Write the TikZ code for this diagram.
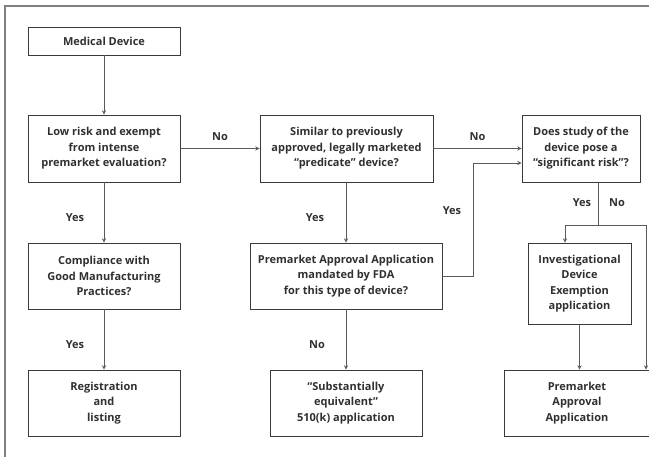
\documentclass[tikz,border=0pt]{standalone}
\usepackage{fontspec}
\setmainfont{Open Sans}
\usepackage{tikz}
\tikzset{>=stealth}
\definecolor{boxline}{HTML}{3A3A3A}
\definecolor{arrline}{HTML}{5A5A5A}
\definecolor{txt}{HTML}{303030}

\begin{document}
\begin{tikzpicture}[x=1pt, y=-1pt, font=\fontsize{11}{15.5}\selectfont\bfseries, text=txt,
    box/.style={draw=boxline, line width=0.9pt, align=center, inner sep=2pt},
    link/.style={->, draw=arrline, line width=0.9pt},
    lbl/.style={inner sep=1pt}]
     \useasboundingbox (0,0) rectangle (649,457);
     \draw[gray, line width=1.4pt] (5,457) -- (5,6) -- (650,6);
     % first row
     \node[box, minimum width=152, minimum height=28] (dev) at (104,41) {Medical Device};
     \node[box, minimum width=152, minimum height=67] (low) at (104,148.5) {Low risk and exempt\\from intense\\premarket evaluation?};
     \node[box, minimum width=173, minimum height=67] (sim) at (346.5,148.5) {Similar to previously\\approved, legally marketed\\``predicate'' device?};
     \node[box, minimum width=118, minimum height=67] (sig) at (581,148.5) {Does study of the\\device pose a\\``significant risk''?};
     % second row
     \node[box, minimum width=152, minimum height=66] (gmp) at (104,276) {Compliance with\\Good Manufacturing\\Practices?};
     \node[box, minimum width=192, minimum height=66] (pma) at (346,276) {Premarket Approval Application\\mandated by FDA\\for this type of device?};
     \node[box, minimum width=103, minimum height=81] (ide) at (579.5,283.5) {Investigational\\Device\\Exemption\\application};
     % third row
     \node[box, minimum width=152, minimum height=66] (reg) at (104,403) {Registration\\and\\listing};
     \node[box, minimum width=152, minimum height=66] (sub) at (346,403) {``Substantially\\equivalent''\\510(k) application};
     \node[box, minimum width=146, minimum height=66] (app) at (577,403) {Premarket\\Approval\\Application};
     % connectors
     \coordinate (split) at (598,225);
     \coordinate (splitl) at (565,225);
     \coordinate (splitr) at (646,225);
     \coordinate (bend) at (473,163);
     \draw[link] (dev) -- (low);
     \draw[link] (low) -- node[lbl, midway, above=6pt] (nolow) {No} (sim);
     \draw[link] (sim) -- node[lbl, midway, above=6pt] (nosim) {No} (sig);
     \draw[link] (low) -- node[lbl, midway, xshift=-29, yshift=-5] (yeslow) {Yes} (gmp);
     \draw[link] (sim.south -| pma) -- node[lbl, midway, xshift=-31, yshift=-5] (yessim) {Yes} (pma);
     \draw[link] (gmp) -- node[lbl, midway, xshift=-29, yshift=-5] (yesgmp) {Yes} (reg);
     \draw[link] (pma) -- node[lbl, midway, xshift=-29, yshift=-5] (nopma) {No} (sub);
     \draw[link] (pma.east) -- (pma.east -| bend) -- node[lbl, pos=0.58, xshift=-21] (yespma) {Yes} (bend) -- (bend -| sig.west);
     \draw[draw=arrline, line width=0.9pt] (sig.south -| split) -- (split);
     \draw[draw=arrline, line width=0.9pt] (splitl) -- (splitr);
     \node[lbl] (yessig) at (582,203) {Yes};
     \node[lbl] (nosig) at (617,203) {No};
     \draw[link] (splitl) -- (splitl |- ide.north);
     \draw[link] (splitr) -- (splitr |- app.north);
     \draw[link] (ide.south) -- (ide.south |- app.north);
\end{tikzpicture}
\end{document}
